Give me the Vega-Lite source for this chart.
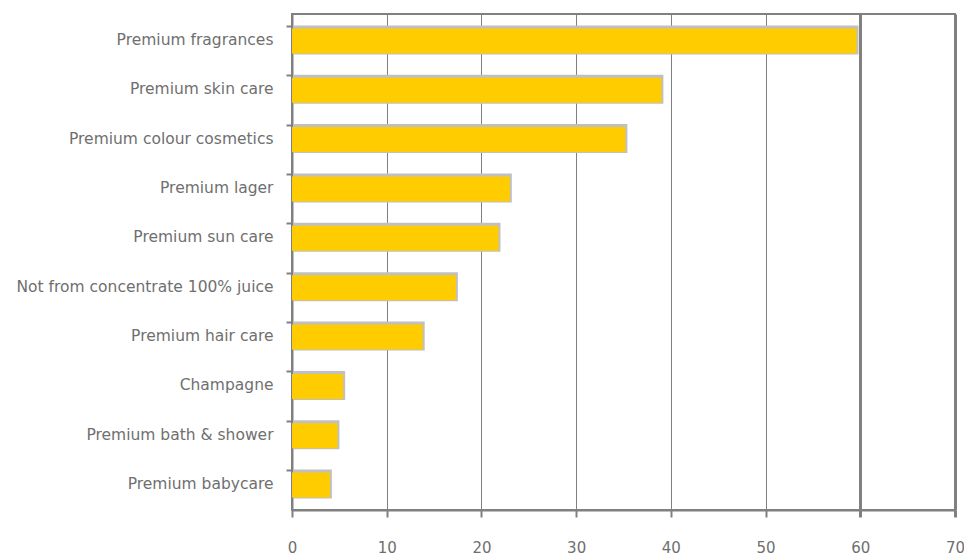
{
  "$schema": "https://vega.github.io/schema/vega-lite/v6.json",
  "autosize": "none",
  "padding": {"left": 292, "top": 14, "right": 9, "bottom": 48},
  "width": 663,
  "height": 496,
  "background": "white",
  "config": {
    "view": {"stroke": "#808080", "strokeWidth": 2},
    "font": "DejaVu Sans"
  },
  "data": {
    "values": [
      {"category": "Premium fragrances", "value": 59.6},
      {"category": "Premium skin care", "value": 39.0},
      {"category": "Premium colour cosmetics", "value": 35.2},
      {"category": "Premium lager", "value": 23.0},
      {"category": "Premium sun care", "value": 21.8},
      {"category": "Not from concentrate 100% juice", "value": 17.3},
      {"category": "Premium hair care", "value": 13.8},
      {"category": "Champagne", "value": 5.4},
      {"category": "Premium bath & shower", "value": 4.8},
      {"category": "Premium babycare", "value": 4.0}
    ]
  },
  "encoding": {
    "y": {
      "field": "category",
      "type": "nominal",
      "sort": null,
      "scale": {"paddingInner": 0.45, "paddingOuter": 0.25},
      "axis": {
        "title": null,
        "bandPosition": 0,
        "domainColor": "#808080",
        "domainWidth": 2,
        "tickColor": "#808080",
        "tickWidth": 2,
        "tickSize": 6,
        "labelPadding": 13,
        "labelColor": "#6f6f6f",
        "labelFontSize": 15.5,
        "labelFont": "DejaVu Sans",
        "labelLimit": 0,
        "grid": false
      }
    },
    "x": {
      "field": "value",
      "type": "quantitative",
      "scale": {"domain": [0, 70], "nice": false},
      "axis": {
        "title": null,
        "values": [0, 10, 20, 30, 40, 50, 60, 70],
        "grid": true,
        "gridColor": "#808080",
        "gridOpacity": 1,
        "gridWidth": {"condition": {"test": "datum.value >= 60", "value": 3}, "value": 1},
        "domainColor": "#808080",
        "domainWidth": 2,
        "tickColor": "#808080",
        "tickWidth": {"condition": {"test": "datum.value >= 60", "value": 3}, "value": 2},
        "tickSize": 7,
        "labelPadding": 23,
        "labelFlush": false,
        "labelColor": "#6f6f6f",
        "labelFontSize": 15,
        "labelFont": "DejaVu Sans"
      }
    }
  },
  "layer": [
    {
      "mark": {"type": "bar", "color": "#C0C0C0", "xOffset": 2, "height": 29, "yOffset": 0}
    },
    {
      "mark": {"type": "bar", "color": "#FFCC00", "height": 25, "yOffset": 1}
    }
  ]
}
